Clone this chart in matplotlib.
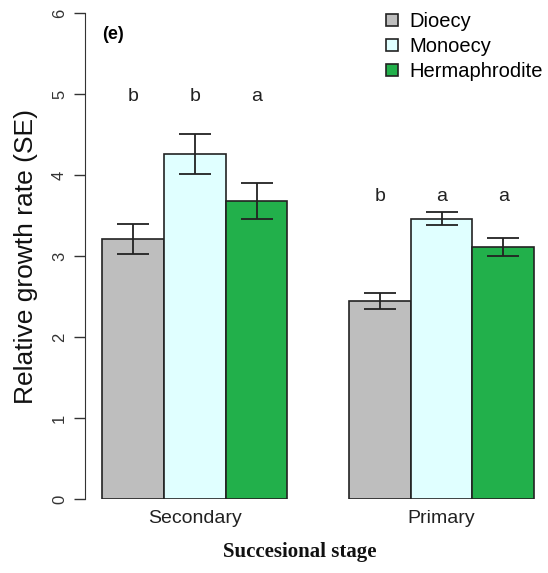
import matplotlib
matplotlib.use('Agg')
import matplotlib.pyplot as plt
import numpy as np

plt.rcParams['font.family'] = ['Liberation Sans', 'DejaVu Sans']

stages = ['Secondary', 'Primary']
systems = ['Dioecy', 'Monoecy', 'Hermaphrodite']
colors = ['#BEBEBE', '#E0FFFF', '#22B04B']

# medias y errores estandar (filas: sistema, columnas: etapa)
means = [[3.21, 2.44],
         [4.26, 3.46],
         [3.68, 3.11]]
ses = [[0.18, 0.10],
       [0.25, 0.08],
       [0.22, 0.11]]
letters = [['b', 'b'],
           ['b', 'a'],
           ['a', 'a']]
letter_y = [4.97, 3.74]

fig = plt.figure(figsize=(5.48, 5.73), dpi=100)
ax = fig.add_axes([85 / 548, 74 / 573, 1 - 85 / 548, 486 / 573])

# posiciones estilo barplot de R (beside=TRUE, space=c(0,1))
for i, sys in enumerate(systems):
    x = np.array([1.5 + i, 5.5 + i])
    ax.bar(x, means[i], width=1.0, color=colors[i], edgecolor='#222222',
           linewidth=1.2, label=sys, zorder=2)
    ax.errorbar(x, means[i], yerr=ses[i], fmt='none', ecolor='#222222',
                elinewidth=1.3, capsize=11.5, capthick=1.3, zorder=3)
    for j in range(2):
        ax.text(x[j], letter_y[j], letters[i][j], ha='center', va='center',
                fontsize=14, color='#222222')

ax.set_xlim(0.72, 0.72 + (548 - 85) / 61.7)
ax.set_ylim(0, 6)
ax.set_yticks(range(7))
ax.set_yticklabels([str(v) for v in range(7)], rotation=90, va='center',
                   fontsize=12, color='#333333')
ax.tick_params(axis='y', length=8, width=1, color='#333333', pad=5)
ax.set_xticks([2.5, 6.5])
ax.set_xticklabels(stages, fontsize=14, color='#222222')
ax.tick_params(axis='x', length=0, pad=8)

for s in ['top', 'right', 'bottom']:
    ax.spines[s].set_visible(False)
ax.spines['left'].set_color('#333333')
ax.spines['left'].set_bounds(0, 6)

ax.set_ylabel('Relative growth rate (SE)', fontsize=19, color='#111111', labelpad=10)
fig.text(300 / 548, 1 - 552 / 573, 'Succesional stage', ha='center', va='center',
         fontsize=15, fontweight='bold', family=['Liberation Serif', 'DejaVu Serif'],
         color='#111111')
ax.text(1.0, 5.74, '(e)', fontsize=13, fontweight='bold', ha='left', va='center')

leg = ax.legend(loc='upper right', bbox_to_anchor=(1.012, 1.0),
                bbox_transform=fig.transFigure, frameon=False, fontsize=14.5,
                handlelength=0.6, handleheight=0.6, handletextpad=0.55,
                labelspacing=0.3, borderaxespad=0.2)

fig.savefig('out.png', dpi=100)
